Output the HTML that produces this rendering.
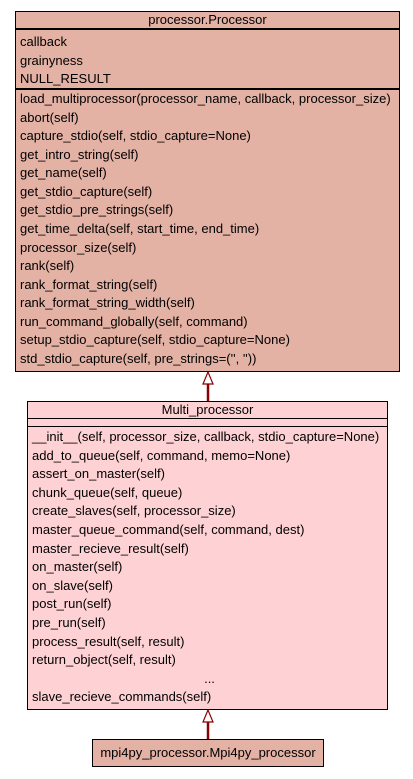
<!DOCTYPE html>
<html><head><style>
body{margin:0;width:413px;height:779px;background:#fff;position:relative;font-family:"Liberation Sans",Arial,sans-serif;font-size:13px;color:#000;overflow:hidden}
.b{position:absolute;border:1px solid #000;box-sizing:border-box}
.t{position:absolute;white-space:nowrap;line-height:15px}
</style></head><body>
<div class="b" style="left:15px;top:11px;width:385px;height:361px;background:#e4b2a5"></div>
<div style="position:absolute;left:15px;width:385px;top:28px;height:2px;background:#000"></div>
<div style="position:absolute;left:15px;width:385px;top:88px;height:2px;background:#000"></div>
<div class="t" style="left:15px;width:385px;text-align:center;top:12px">processor.Processor</div>
<div style="position:absolute;left:20px;top:33px;line-height:18.5px;white-space:nowrap">callback<br>grainyness<br>NULL_RESULT</div>
<div style="position:absolute;left:20px;top:90px;line-height:18.57px;white-space:nowrap">load_multiprocessor(processor_name, callback, processor_size)<br>abort(self)<br>capture_stdio(self, stdio_capture=None)<br>get_intro_string(self)<br>get_name(self)<br>get_stdio_capture(self)<br>get_stdio_pre_strings(self)<br>get_time_delta(self, start_time, end_time)<br>processor_size(self)<br>rank(self)<br>rank_format_string(self)<br>rank_format_string_width(self)<br>run_command_globally(self, command)<br>setup_stdio_capture(self, stdio_capture=None)<br>std_stdio_capture(self, pre_strings=('', ''))</div>

<svg style="position:absolute;left:0;top:0" width="413" height="779">
<line x1="208" y1="384" x2="208" y2="401" stroke="#8b0000" stroke-width="2.5"/>
<polygon points="208,372 203,384 213,384" fill="#fff" stroke="#8b0000" stroke-width="1.2"/>
<line x1="208" y1="722" x2="208" y2="739" stroke="#8b0000" stroke-width="2.5"/>
<polygon points="208,710 203,722 213,722" fill="#fff" stroke="#8b0000" stroke-width="1.2"/>
</svg>

<div class="b" style="left:27px;top:401px;width:361px;height:309px;background:#fed2d4"></div>
<div style="position:absolute;left:27px;width:361px;top:418px;height:1px;background:#000"></div>
<div style="position:absolute;left:27px;width:361px;top:426px;height:1px;background:#000"></div>
<div class="t" style="left:27px;width:361px;text-align:center;top:402px">Multi_processor</div>
<div style="position:absolute;left:32px;top:428px;line-height:18.6px;white-space:nowrap">__init__(self, processor_size, callback, stdio_capture=None)<br>add_to_queue(self, command, memo=None)<br>assert_on_master(self)<br>chunk_queue(self, queue)<br>create_slaves(self, processor_size)<br>master_queue_command(self, command, dest)<br>master_recieve_result(self)<br>on_master(self)<br>on_slave(self)<br>post_run(self)<br>pre_run(self)<br>process_result(self, result)<br>return_object(self, result)<br><span style="display:block;width:355px;text-align:center">...</span>slave_recieve_commands(self)</div>

<div class="b" style="left:92px;top:739px;width:232px;height:28px;background:#e4b2a5"></div>
<div class="t" style="left:92px;width:232px;text-align:center;top:745px">mpi4py_processor.Mpi4py_processor</div>
</body></html>
